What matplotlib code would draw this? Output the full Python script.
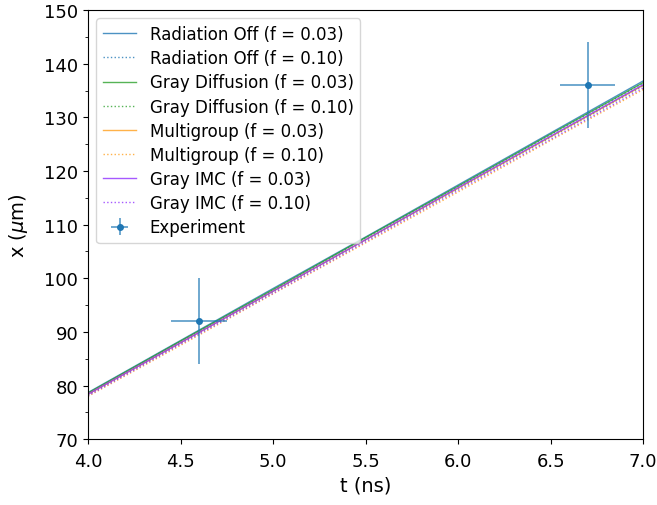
import matplotlib
matplotlib.use("Agg")
import matplotlib.pyplot as plt
from matplotlib.ticker import MultipleLocator

t = [4.0, 4.5, 5.0, 5.5, 6.0, 6.5, 7.0]
rad_off_003 = [78.7, 88.4, 98.1, 107.7, 117.4, 127.1, 136.8]
rad_off_010 = [78.5, 88.2, 97.8, 107.5, 117.1, 126.8, 136.4]
gray_diff_003 = [78.6, 88.3, 97.9, 107.6, 117.2, 126.9, 136.5]
gray_diff_010 = [78.3, 87.9, 97.5, 107.1, 116.7, 126.3, 135.9]
multigroup_003 = [78.4, 88.0, 97.6, 107.2, 116.8, 126.4, 136.0]
multigroup_010 = [78.0, 87.5, 97.1, 106.6, 116.1, 125.7, 135.2]
gray_imc_003 = [78.4, 88.0, 97.6, 107.2, 116.9, 126.5, 136.1]
gray_imc_010 = [78.1, 87.7, 97.2, 106.8, 116.4, 125.9, 135.5]

exp_t = [4.6, 6.7]
exp_x = [92.0, 136.0]
exp_terr = [0.15, 0.15]
exp_xerr = [8.0, 8.0]

fig = plt.figure(figsize=(6.57, 5.06), dpi=100)
ax = fig.add_axes([0.134, 0.130, 0.845, 0.848])

series = [
    ("Radiation Off (f = 0.03)", rad_off_003, "#1f77b4", "-"),
    ("Radiation Off (f = 0.10)", rad_off_010, "#1f77b4", ":"),
    ("Gray Diffusion (f = 0.03)", gray_diff_003, "#2ca02c", "-"),
    ("Gray Diffusion (f = 0.10)", gray_diff_010, "#2ca02c", ":"),
    ("Multigroup (f = 0.03)", multigroup_003, "#ff9f1c", "-"),
    ("Multigroup (f = 0.10)", multigroup_010, "#ff9f1c", ":"),
    ("Gray IMC (f = 0.03)", gray_imc_003, "#9030ff", "-"),
    ("Gray IMC (f = 0.10)", gray_imc_010, "#9030ff", ":"),
]
for label, vals, c, ls in series:
    ax.plot(t, vals, color=c, ls=ls, lw=1.0, alpha=0.8, label=label)

eb = ax.errorbar(exp_t, exp_x, xerr=exp_terr, yerr=exp_xerr, fmt="o", ms=4,
                 color="#1f77b4", ecolor=(0.12, 0.47, 0.71, 0.75),
                 elinewidth=1.2, capsize=0, label="Experiment")

ax.set_xlim(4.0, 7.0)
ax.set_ylim(70, 150)
ax.yaxis.set_minor_locator(MultipleLocator(5))
ax.tick_params(labelsize=13)
ax.tick_params(axis="x", pad=6)
ax.set_xlabel("t (ns)", fontsize=14)
ax.set_ylabel(r"x ($\mu$m)", fontsize=14, labelpad=10)
ax.legend(loc="upper left", fontsize=12, labelspacing=0.37)

fig.savefig("out.png", dpi=100)
